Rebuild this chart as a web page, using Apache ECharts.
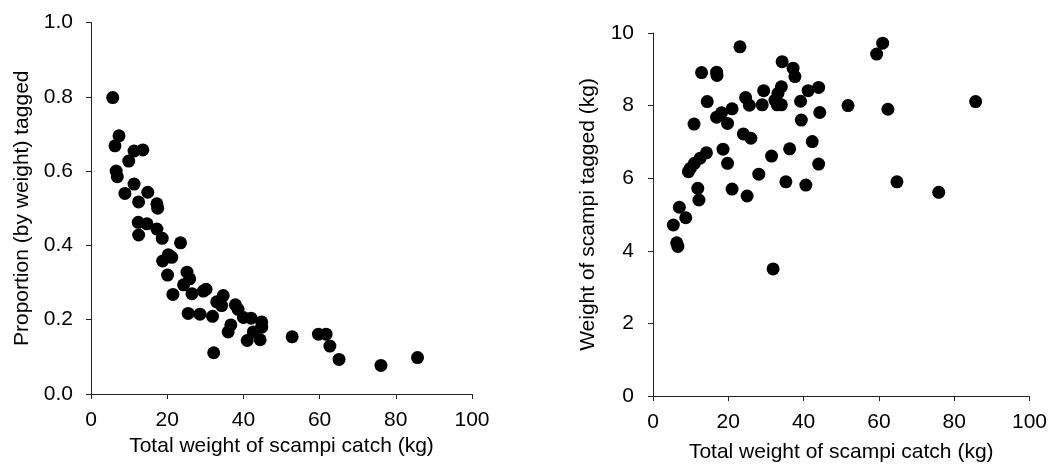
<!DOCTYPE html>
<html>
<head>
<meta charset="utf-8">
<script src="https://cdn.jsdelivr.net/npm/echarts@6/dist/echarts.min.js"></script>
<style>
html,body{margin:0;padding:0;background:#fff;}
#chart{width:1050px;height:472px;}
</style>
</head>
<body>
<div id="chart"></div>
<script>
// Left panel: total catch (kg) vs proportion tagged
var propData = [
  [5.7,0.798],[6.3,0.668],[7.35,0.695],[6.6,0.600],[6.9,0.585],[8.9,0.540],[9.9,0.627],
  [11.3,0.654],[13.6,0.657],[11.3,0.565],[14.9,0.543],[12.5,0.517],[17.3,0.512],[17.5,0.500],
  [12.4,0.462],[14.7,0.458],[17.3,0.444],[12.5,0.428],[18.7,0.419],[23.5,0.407],[20.3,0.375],
  [21.2,0.368],[18.8,0.358],[20.1,0.320],[25.2,0.328],[25.9,0.310],[24.3,0.294],[21.5,0.268],
  [26.5,0.270],[29.5,0.277],[30.2,0.282],[34.7,0.265],[33.0,0.248],[34.3,0.238],[37.9,0.240],
  [38.6,0.228],[25.5,0.217],[28.6,0.215],[31.9,0.209],[40.0,0.206],[42.0,0.204],[36.7,0.186],
  [44.8,0.194],[44.8,0.180],[36.0,0.167],[42.6,0.167],[41.0,0.144],[44.4,0.146],[32.2,0.111],
  [52.8,0.154],[59.7,0.161],[61.7,0.161],[62.7,0.129],[65.1,0.093],[76.1,0.077],[85.7,0.098]
];
// Right panel: total catch (kg) vs weight tagged (kg)
var weightData = [
  [5.4,4.71],[6.3,4.22],[6.6,4.12],[7.0,5.20],[8.7,4.91],[9.4,6.18],[9.9,6.27],[11.0,6.41],
  [12.5,6.55],[14.2,6.70],[10.9,7.49],[11.9,5.72],[12.2,5.40],[12.9,8.91],[16.9,8.92],[17.0,8.83],
  [14.4,8.11],[16.9,7.68],[18.2,7.80],[19.8,7.51],[21.0,7.91],[18.6,6.80],[19.8,6.41],[21.0,5.70],
  [23.1,9.62],[24.6,8.22],[25.6,8.01],[24.0,7.22],[26.0,7.10],[25.0,5.51],[28.1,6.11],[29.4,8.41],
  [29.0,8.02],[31.5,6.61],[31.9,3.50],[32.4,8.15],[33.0,8.02],[34.1,8.02],[33.2,8.34],[34.1,8.52],
  [34.3,9.21],[37.2,9.03],[37.7,8.80],[36.3,6.81],[35.3,5.90],[39.2,8.12],[39.4,7.60],[40.6,5.81],
  [41.2,8.41],[42.3,7.01],[44.0,8.50],[44.3,7.81],[44.0,6.39],[51.8,8.00],[59.4,9.42],[61.0,9.72],
  [62.4,7.90],[64.8,5.90],[75.9,5.61],[85.7,8.11]
];
var xTickLabels = ['0','20','40','60','80','100'];
var leftYTickLabels = ['0.0','0.2','0.4','0.6','0.8','1.0'];
var rightYTickLabels = ['0','2','4','6','8','10'];
var xTitle = 'Total weight of scampi catch (kg)';
var leftYTitle = 'Proportion (by weight) tagged';
var rightYTitle = 'Weight of scampi tagged (kg)';

var FONT = '"Liberation Sans", Arial, sans-serif';
var axisCol = '#222';

function xAxis(gridIndex, labelMargin, gap){
  return {
    type:'value', gridIndex:gridIndex, min:0, max:100, interval:20,
    name:xTitle, nameLocation:'middle', nameGap:gap,
    nameTextStyle:{fontFamily:FONT, fontSize:21, color:'#000'},
    axisLine:{show:true, onZero:false, lineStyle:{color:axisCol, width:1}},
    axisTick:{show:true, inside:false, length:5, lineStyle:{color:axisCol}},
    axisLabel:{fontFamily:FONT, fontSize:21, color:'#000', margin:labelMargin,
      formatter:function(v){ return xTickLabels[Math.round(v/20)]; }},
    splitLine:{show:false}
  };
}
function yAxis(gridIndex, max, interval, labels, title, gap, labelMargin){
  return {
    type:'value', gridIndex:gridIndex, min:0, max:max, interval:interval,
    name:title, nameLocation:'middle', nameGap:gap, nameRotate:90,
    nameTextStyle:{fontFamily:FONT, fontSize:21, color:'#000'},
    axisLine:{show:true, onZero:false, lineStyle:{color:axisCol, width:1}},
    axisTick:{show:true, inside:false, length:5, lineStyle:{color:axisCol}},
    axisLabel:{fontFamily:FONT, fontSize:21, color:'#000', margin:labelMargin,
      formatter:function(v){ return labels[Math.round(v/interval)]; }},
    splitLine:{show:false}
  };
}

var chart = echarts.init(document.getElementById('chart'), null, {renderer:'canvas'});
chart.setOption({
  backgroundColor:'#fff',
  animation:false,
  grid:[
    {left:91, top:22.5, width:381, height:371.5},
    {left:653, top:33, width:377, height:363}
  ],
  xAxis:[xAxis(0, 16, 42), xAxis(1, 16, 46)],
  yAxis:[
    yAxis(0, 1, 0.2, leftYTickLabels, leftYTitle, 58, 18),
    yAxis(1, 10, 2, rightYTickLabels, rightYTitle, 54, 19)
  ],
  series:[
    {type:'scatter', xAxisIndex:0, yAxisIndex:0, data:propData, symbol:'circle', symbolSize:13,
     itemStyle:{color:'#000', opacity:1}},
    {type:'scatter', xAxisIndex:1, yAxisIndex:1, data:weightData, symbol:'circle', symbolSize:13,
     itemStyle:{color:'#000', opacity:1}}
  ]
});
</script>
</body>
</html>
